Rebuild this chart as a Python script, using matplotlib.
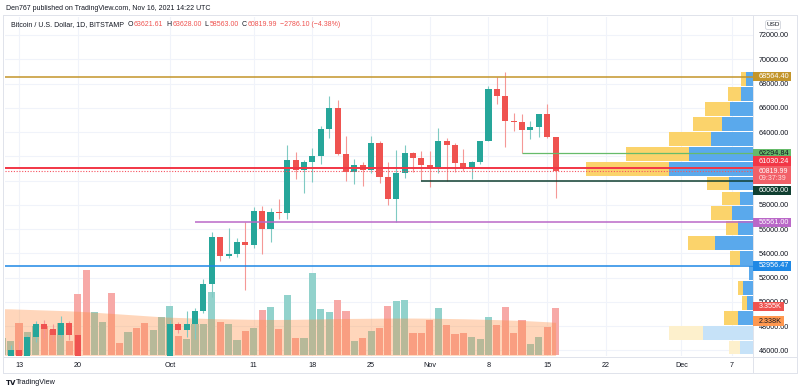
import numpy as np
import pandas as pd
import matplotlib
matplotlib.use('Agg')
import matplotlib.pyplot as plt
from matplotlib.patches import Rectangle, FancyBboxPatch
from matplotlib.lines import Line2D
import matplotlib.transforms as mtransforms

plt.rcParams['font.family'] = ['Liberation Sans', 'DejaVu Sans']

# ---- daily candles, BITSTAMP BTC/USD, 11 Sep -> 16 Nov 2021
dates = pd.date_range('2021-09-11', '2021-11-16', freq='D')
opens = [44860, 45160, 46063, 44963, 47092, 48176, 47783, 47268, 48286, 47262,
         42843, 40640, 43570, 44890, 42840, 42720, 43200, 42200, 41040, 41550,
         43830, 48150, 47660, 48200, 49250, 51500, 55340, 53800, 53960, 54950,
         54700, 57480, 56000, 57400, 57350, 61670, 60860, 61530, 62030, 64280,
         66000, 62200, 60700, 61300, 60850, 63080, 60330, 58450, 60580, 62250,
         61880, 61320, 60950, 63240, 62930, 61430, 61010, 61530, 63280, 67540,
         66930, 64900, 64820, 64150, 64400, 65470, 63621.61]
highs = [45990, 46400, 46780, 47250, 48450, 48500, 48160, 48830, 48380, 47355,
         43640, 44000, 44990, 45100, 42960, 43930, 44350, 42780, 42620, 44130,
         48500, 48360, 49200, 49500, 51900, 55750, 55340, 56100, 55250, 56560,
         57800, 57870, 57700, 58500, 62930, 62350, 61720, 62650, 64490, 67000,
         66600, 63700, 61750, 61500, 63710, 63290, 61500, 62500, 62960, 62350,
         62430, 62400, 64300, 63500, 63100, 62600, 61580, 63300, 67780, 68530,
         68974, 65600, 65470, 64900, 65500, 66300, 63628]
lows = [44720, 44750, 43400, 44700, 46700, 47020, 46800, 47080, 46880, 42500,
        39600, 40400, 43090, 40700, 41680, 40800, 42100, 40900, 40800, 41430,
        43300, 47450, 47100, 46950, 49050, 50400, 53400, 53600, 53700, 50970,
        54450, 53900, 54900, 56850, 56850, 60150, 58950, 59850, 61330, 63500,
        62100, 60000, 59700, 59580, 60650, 59820, 58000, 56560, 60180, 60700,
        60050, 59480, 60650, 60000, 60700, 60750, 60100, 61350, 63280, 66350,
        62800, 64120, 62300, 63400, 63600, 63500, 58563]
closes = [45160, 46063, 44963, 47092, 48176, 47783, 47268, 48286, 47262, 42843,
          40640, 43570, 44890, 42840, 42720, 43200, 42200, 41040, 41550, 43830,
          48150, 47660, 48200, 49250, 51500, 55340, 53800, 53960, 54950, 54700,
          57480, 56000, 57400, 57350, 61670, 60860, 61530, 62030, 64280, 66000,
          62200, 60700, 61300, 60850, 63080, 60330, 58450, 60580, 62250, 61880,
          61320, 60950, 63240, 62930, 61430, 61010, 61530, 63280, 67540, 66930,
          64900, 64820, 64150, 64400, 65470, 63621.61, 60819.99]
volumes = [1200, 1000, 2320, 1650, 2080, 2080, 1800, 2280, 1000, 4310,
           6040, 3090, 2370, 4410, 890, 1650, 1970, 2280, 1800, 2680,
           3520, 1370, 1170, 2250, 2200, 4480, 2370, 2250, 1080, 1730,
           1970, 3240, 3400, 1890, 4240, 1250, 1250, 5850, 3280, 3090,
           3930, 3160, 1050, 1250, 1730, 1970, 3520, 3810, 3930, 1580,
           1580, 2520, 3350, 2160, 1530, 1580, 1290, 1130, 2730, 2160,
           3450, 1600, 2520, 840, 1270, 2010, 3355]
vol_ma = [3300, 3290, 3270, 3250, 3230, 3210, 3190, 3170, 3150, 3120,
          3090, 3050, 3010, 2970, 2930, 2890, 2850, 2810, 2770, 2730,
          2700, 2680, 2660, 2640, 2620, 2600, 2590, 2580, 2570, 2560,
          2550, 2545, 2540, 2540, 2545, 2550, 2560, 2570, 2580, 2590,
          2600, 2610, 2615, 2620, 2625, 2630, 2635, 2640, 2640, 2640,
          2635, 2630, 2620, 2610, 2600, 2590, 2575, 2560, 2545, 2530,
          2510, 2490, 2470, 2440, 2410, 2380, 2338]
change_abs = -2786.10
change_pct = -4.38

tick_dates = ['2021-09-13', '2021-09-20', '2021-10-01', '2021-10-11', '2021-10-18',
              '2021-10-25', '2021-11-01', '2021-11-08', '2021-11-15', '2021-11-22',
              '2021-12-01', '2021-12-07']
tick_labels = ['13', '20', 'Oct', '11', '18', '25', 'Nov', '8', '15', '22', 'Dec', '7']
price_ticks = list(range(46000, 72001, 2000))
hidden_ticks = [60000, 62000]   # fully covered by the level tags

# volume profile (visible range), rows from the top down
vp_top = 68974
vp_row = 1229.6
vp_up = [730, 1200, 2300, 3130, 4230, 6370, 8370, 2370, 1300, 2130,
         1530, 3800, 1300, 400, 970, 630, 1530, 4970, 1300]
vp_down = [470, 1270, 2500, 2900, 4140, 6330, 8330, 2260, 1830, 2070,
           1200, 2730, 1000, 0, 560, 500, 1370, 3430, 1100]
vp_faded = [False] * 17 + [True, True]

# drawn levels: price, start date (None = whole chart), colour, label text colour
lvl_price = [68564.40, 62294.84, 61030.24, 60000.00, 56561.00, 52956.47]
lvl_start = [None, '2021-11-12', None, '2021-10-31', '2021-10-04', None]
lvl_color = ['#c3952a', '#66bb6a', '#f23645', '#103f31', '#ba68c8', '#1e88e5']
lvl_text = ['white', '#131722', 'white', 'white', 'white', 'white']
lvl_lw = [1.1, 0.9, 1.4, 1.1, 1.1, 1.1]
lvl_shift = [0, 1, -7, 9.8, 0, 0]   # label nudged (px, down) to avoid overlap
last_price = 60819.99
countdown = '09:37:39'

# ---- geometry
W, H = 800, 392
t0 = pd.Timestamp('2021-09-12')
x = np.array([(d - t0).days for d in dates])
xt = [(pd.Timestamp(d) - t0).days for d in tick_dates]
o = np.array(opens); h = np.array(highs); l = np.array(lows); c = np.array(closes)
up = c >= o

fig = plt.figure(figsize=(W / 100, H / 100), dpi=100)
pane = [5 / W, 1 - 356 / H, 748 / W, 339 / H]
xlim = (-0.67, 88.55)
ylim = (45530, 73484)

ax_bg = fig.add_axes(pane)
ax_vol = fig.add_axes(pane, sharex=ax_bg)
ax_vp = fig.add_axes(pane, sharey=ax_bg)
ax = fig.add_axes(pane, sharex=ax_bg, sharey=ax_bg)
for a in (ax_bg, ax_vol, ax_vp, ax):
    for s in a.spines.values():
        s.set_visible(False)
for a in (ax_vol, ax_vp, ax):
    a.patch.set_alpha(0)
    a.tick_params(left=False, right=False, bottom=False, top=False,
                  labelleft=False, labelright=False, labelbottom=False)

ax_bg.set_xlim(*xlim)
ax_bg.set_ylim(*ylim)
ax_bg.set_xticks(xt)
ax_bg.set_xticklabels(tick_labels)
ax_bg.set_yticks(price_ticks)
ax_bg.set_yticklabels(['' if v in hidden_ticks else f'{v:.2f}' for v in price_ticks])
ax_bg.yaxis.tick_right()
ax_bg.tick_params(axis='y', length=0, pad=4.3, labelsize=5.2, labelcolor='#131722')
ax_bg.tick_params(axis='x', length=0, pad=4.5, labelsize=5.2, labelcolor='#131722')
ax_bg.grid(True, color='#f0f3fa', lw=0.8)
ax_bg.set_axisbelow(True)

# volume + MA area
ax_vol.bar(x, volumes, width=0.85, color=np.where(up, '#92d2cc', '#f7a9a7'), lw=0)
ax_vol.fill_between(x, vol_ma, 0, color='#ff8c3c', alpha=0.35, lw=0)
ax_vol.set_ylim(-42, 23916)

# candles
wick_col = np.where(up, '#7fcac3', '#f59896')
body_col = np.where(up, '#26a69a', '#ef5350')
ax.vlines(x, l, h, colors=wick_col, lw=0.8, zorder=3)
body_h = np.maximum(np.abs(c - o), 60)
ax.bar(x, body_h, bottom=np.minimum(o, c), width=0.72, color=body_col, lw=0, zorder=4)

# volume profile
vp_c = np.array([vp_top - (i + 0.5) * vp_row for i in range(len(vp_up))])
blue = ['#c6e2f8' if f else '#5aa9ec' for f in vp_faded]
yell = ['#fdf0cc' if f else '#fbd36b' for f in vp_faded]
ax_vp.barh(vp_c, vp_up, height=vp_row * 0.93, left=0, color=blue, lw=0)
ax_vp.barh(vp_c, vp_down, height=vp_row * 0.93, left=vp_up, color=yell, lw=0)
ax_vp.set_xlim(74800, 0)

# level lines
for p, s, col, lw in zip(lvl_price, lvl_start, lvl_color, lvl_lw):
    x0 = xlim[0] if s is None else (pd.Timestamp(s) - t0).days
    ax.hlines(p, x0, xlim[1], colors=col, lw=lw, zorder=6)
ax.axhline(last_price, color='#f7525f', lw=0.8, ls=(0, (1, 1.5)), zorder=6)

# ---- price-axis tags (pixel placement from data transforms)
ID = mtransforms.IdentityTransform()


def tag(a, value, text, fc, tc='white', shift=0, w=38, hgt=9.4):
    yd = a.transData.transform((0, value))[1] - shift
    fig.add_artist(Rectangle((753, yd - hgt / 2), w, hgt, transform=ID,
                             facecolor=fc, edgecolor='none', zorder=20))
    fig.text(758.5, yd, text, transform=ID, ha='left', va='center',
             fontsize=5.2, color=tc, zorder=21)


for p, col, tc, sh in zip(lvl_price, lvl_color, lvl_text, lvl_shift):
    tag(ax, p, f'{p:.2f}', col, tc, sh)
yd = ax.transData.transform((0, last_price))[1]
fig.add_artist(Rectangle((753, yd - 13.3), 38, 18.0, transform=ID,
                         facecolor='#f26068', edgecolor='none', zorder=20))
fig.text(758.5, yd - 0.8, f'{last_price:.2f}', transform=ID, ha='left', va='center',
         fontsize=5.0, color='white', zorder=21)
fig.text(758.5, yd - 8.4, countdown, transform=ID, ha='left', va='center',
         fontsize=5.0, color='#ffe0e0', zorder=21)
tag(ax_vol, volumes[-1], f'{volumes[-1] / 1000:.3f}K', '#ef5350', shift=-1.2, w=31)
tag(ax_vol, vol_ma[-1], f'{vol_ma[-1] / 1000:.3f}K', '#ff9850', tc='#131722', shift=-1.2, w=31)

# ---- frame
fr = '#e0e3eb'
fig.add_artist(Line2D([3, 797], [H - 14.5, H - 14.5], transform=ID, color=fr, lw=0.7))
fig.add_artist(Line2D([3, 797], [H - 356.5, H - 356.5], transform=ID, color=fr, lw=0.7))
fig.add_artist(Line2D([3, 797], [H - 373, H - 373], transform=ID, color=fr, lw=0.7))
fig.add_artist(Line2D([753, 753], [H - 14.5, H - 373], transform=ID, color=fr, lw=0.7))
fig.add_artist(Line2D([3, 3], [H - 14.5, H - 373], transform=ID, color=fr, lw=0.7))
fig.add_artist(Line2D([797, 797], [H - 14.5, H - 373], transform=ID, color=fr, lw=0.7))

# USD badge
fig.add_artist(FancyBboxPatch((765.5, H - 29.5), 15, 9, transform=ID,
                              boxstyle='round,pad=0,rounding_size=2',
                              fc='white', ec='#d1d4dc', lw=0.6))
fig.text(773, H - 25, 'USD', transform=ID, ha='center', va='center',
         fontsize=4.6, color='#131722')

# ---- header + legend
fig.text(6, H - 8.3, 'Den767 published on TradingView.com, Nov 16, 2021 14:22 UTC',
         transform=ID, ha='left', va='center', fontsize=5.0, color='#131722')

r = fig.canvas.get_renderer()
pieces = [('Bitcoin / U.S. Dollar, 1D, BITSTAMP', '#131722', 4.0),
          ('O', '#131722', 0.5), (f'{opens[-1]:.2f}', '#ef5350', 3.2),
          ('H', '#131722', 0.5), (f'{highs[-1]:.2f}', '#ef5350', 3.2),
          ('L', '#131722', 0.5), (f'{lows[-1]:.2f}', '#ef5350', 3.2),
          ('C', '#131722', 0.5), (f'{closes[-1]:.2f}', '#ef5350', 3.6),
          (f'\u2212{abs(change_abs):.2f} (\u2212{abs(change_pct):.2f}%)', '#ef5350', 0)]
xx = 11
for txt, col, gap in pieces:
    t = fig.text(xx, H - 25, txt, transform=ID, ha='left', va='center',
                 fontsize=5.0, color=col)
    xx = t.get_window_extent(r).x1 + gap

# TradingView mark
fig.text(6, H - 382.6, 'TV', transform=ID, ha='left', va='center', fontsize=5.0,
         fontweight='heavy', color='#131722', family='DejaVu Sans')
fig.text(16, H - 382.6, 'TradingView', transform=ID, ha='left', va='center',
         fontsize=5.2, color='#131722')

fig.savefig('out.png', dpi=100)
